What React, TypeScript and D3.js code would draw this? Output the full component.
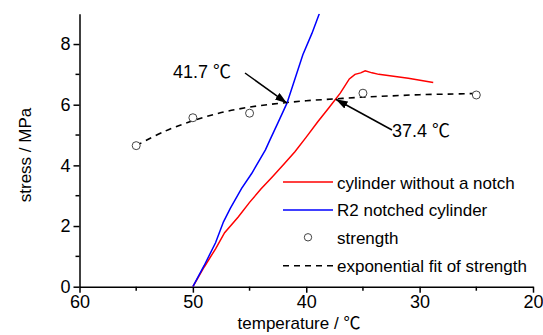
import * as d3 from 'd3';
import React, { useEffect, useRef } from 'react';

// strength measurements (temperature in C, stress in MPa)
const strengthT = [55, 50, 45, 35, 25];
const strengthV = [4.65, 5.57, 5.72, 6.38, 6.32];

// exponential fit of strength
const fitT = [55, 52.5, 50, 47.5, 45, 42.5, 40, 37.5, 35, 32.5, 30, 27.5, 25];
const fitV = [4.65, 5.12, 5.47, 5.74, 5.92, 6.04, 6.13, 6.19, 6.25, 6.29, 6.33, 6.35, 6.37];

// cylinder without a notch
const redT = [50, 49, 48, 47.2, 46, 45, 44, 43, 42, 41, 40, 39, 38, 37, 36.2, 35.7, 35.2, 34.8, 34.2, 33.6, 31, 28.8];
const redV = [0, 0.65, 1.25, 1.78, 2.3, 2.78, 3.22, 3.62, 4.03, 4.45, 4.93, 5.43, 5.9, 6.38, 6.85, 7.0, 7.05, 7.12, 7.05, 7.0, 6.87, 6.73];

// R2 notched cylinder
const blueT = [50, 49, 48, 47.3, 46.7, 45.7, 44.8, 43.6, 43.2, 42.5, 41.7, 41, 40.3, 39.5, 38.85];
const blueV = [0, 0.7, 1.45, 2.14, 2.58, 3.24, 3.74, 4.51, 4.84, 5.4, 6.05, 6.85, 7.65, 8.35, 9.0];

const xTicks = [60, 50, 40, 30, 20];
const xMinor = [55, 45, 35, 25];
const yTicks = [0, 2, 4, 6, 8];
const yMinor = [1, 3, 5, 7];

const legendLabels = ['cylinder without a notch', 'R2 notched cylinder', 'strength', 'exponential fit of strength'];

const annotations = [
  { label: '41.7 ', t: 41.7, v: 6.05, tx: 173, ty: 78, sx: 245, sy: 73 },
  { label: '37.4 ', t: 37.4, v: 6.18, tx: 392, ty: 137, sx: 392, sy: 130 },
];

const W = 543;
const H = 335;
const FONT = "'Liberation Sans', Arial, sans-serif";
const CJK = "'Noto Sans CJK SC', 'Liberation Sans', sans-serif";

export default function App() {
  const ref = useRef<SVGSVGElement>(null);

  useEffect(() => {
    const svg = d3.select(ref.current);
    svg.selectAll('*').remove();

    const x = d3.scaleLinear().domain([60, 20]).range([79.5, 533]);
    const y = d3.scaleLinear().domain([0, 9]).range([286.7, 13.7]);

    const defs = svg.append('defs');
    defs.append('clipPath').attr('id', 'plot-clip')
      .append('rect')
      .attr('x', x(60)).attr('y', y(9))
      .attr('width', x(20) - x(60)).attr('height', y(0) - y(9));
    defs.append('marker')
      .attr('id', 'arrow')
      .attr('markerUnits', 'userSpaceOnUse')
      .attr('viewBox', '0 0 12 8')
      .attr('refX', 12).attr('refY', 4)
      .attr('markerWidth', 12).attr('markerHeight', 8)
      .attr('orient', 'auto')
      .append('path').attr('d', 'M0,0 L12,4 L0,8 Z').attr('fill', '#000');

    // Axes
    const xAxis = svg.append('g')
      .attr('transform', 'translate(0,' + y(0) + ')')
      .call(d3.axisBottom(x).tickValues(xTicks).tickSize(6).tickSizeOuter(0).tickPadding(3).tickFormat(d3.format('d')));
    svg.append('g')
      .attr('transform', 'translate(0,' + y(0) + ')')
      .selectAll('line').data(xMinor).enter().append('line')
      .attr('x1', d => x(d)).attr('x2', d => x(d))
      .attr('y1', 0).attr('y2', 4)
      .attr('stroke', '#000').attr('stroke-width', 1.5);

    const yAxis = svg.append('g')
      .attr('transform', 'translate(' + x(60) + ',0)')
      .call(d3.axisLeft(y).tickValues(yTicks).tickSize(6).tickSizeOuter(0).tickPadding(3).tickFormat(d3.format('d')));
    svg.append('g')
      .attr('transform', 'translate(' + x(60) + ',0)')
      .selectAll('line').data(yMinor).enter().append('line')
      .attr('x1', 0).attr('x2', -4)
      .attr('y1', d => y(d)).attr('y2', d => y(d))
      .attr('stroke', '#000').attr('stroke-width', 1.5);

    [xAxis, yAxis].forEach(g => {
      g.select('.domain').attr('stroke-width', 1.5);
      g.selectAll('.tick line').attr('stroke-width', 1.5);
      g.selectAll('.tick text').attr('font-size', 18).attr('font-family', FONT).attr('fill', '#000');
    });

    const xTitle = svg.append('text')
      .attr('x', 299).attr('y', 329)
      .attr('text-anchor', 'middle')
      .attr('font-size', 17).attr('font-family', FONT)
      .text('temperature /  ');
    xTitle.append('tspan').attr('font-family', CJK).text('\u2103');
    svg.append('text')
      .attr('transform', 'translate(31,155) rotate(-90)')
      .attr('text-anchor', 'middle')
      .attr('font-size', 17).attr('font-family', FONT)
      .text('stress / MPa');

    const plot = svg.append('g').attr('clip-path', 'url(#plot-clip)');

    const line = d3.line<[number, number]>()
      .x(d => x(d[0]))
      .y(d => y(d[1]));

    // dashed fit
    plot.append('path')
      .attr('d', line.curve(d3.curveCatmullRom)(fitT.map((t, i) => [t, fitV[i]] as [number, number])))
      .attr('fill', 'none').attr('stroke', '#000')
      .attr('stroke-width', 1.6).attr('stroke-dasharray', '6,5');

    line.curve(d3.curveLinear);
    plot.append('path')
      .attr('d', line(redT.map((t, i) => [t, redV[i]] as [number, number])))
      .attr('fill', 'none').attr('stroke', '#ff0000').attr('stroke-width', 1.5);
    plot.append('path')
      .attr('d', line(blueT.map((t, i) => [t, blueV[i]] as [number, number])))
      .attr('fill', 'none').attr('stroke', '#0000ff').attr('stroke-width', 1.5);

    plot.selectAll('circle.strength')
      .data(strengthT.map((t, i) => [t, strengthV[i]]))
      .enter().append('circle')
      .attr('class', 'strength')
      .attr('cx', d => x(d[0])).attr('cy', d => y(d[1])).attr('r', 4)
      .attr('fill', '#fff').attr('stroke', '#444').attr('stroke-width', 1);

    // annotations
    annotations.forEach(a => {
      svg.append('line')
        .attr('x1', a.sx).attr('y1', a.sy)
        .attr('x2', x(a.t)).attr('y2', y(a.v))
        .attr('stroke', '#000').attr('stroke-width', 1.5)
        .attr('marker-end', 'url(#arrow)');
      const txt = svg.append('text')
        .attr('x', a.tx).attr('y', a.ty)
        .attr('font-size', 18).attr('font-family', FONT)
        .text(a.label);
      txt.append('tspan').attr('font-family', CJK).text('\u2103');
    });

    // legend
    const lg = svg.append('g').attr('transform', 'translate(283,182)');
    const rowH = 27.9;
    lg.append('line').attr('x1', 0).attr('x2', 50).attr('y1', 0).attr('y2', 0)
      .attr('stroke', '#ff0000').attr('stroke-width', 1.5);
    lg.append('line').attr('x1', 0).attr('x2', 50).attr('y1', rowH).attr('y2', rowH)
      .attr('stroke', '#0000ff').attr('stroke-width', 1.5);
    lg.append('circle').attr('cx', 25).attr('cy', rowH * 2 - 0.5).attr('r', 3.7)
      .attr('fill', '#fff').attr('stroke', '#444').attr('stroke-width', 1);
    lg.append('line').attr('x1', 0).attr('x2', 50).attr('y1', rowH * 3).attr('y2', rowH * 3)
      .attr('stroke', '#000').attr('stroke-width', 1.6).attr('stroke-dasharray', '6,5');
    lg.selectAll('text').data(legendLabels).enter().append('text')
      .attr('x', 54).attr('y', (d, i) => i * rowH + 6.5)
      .attr('font-size', 17).attr('font-family', FONT)
      .text(d => d);
  }, []);

  return (
    <div style={{ position: 'fixed', left: 0, top: 0 }}>
      <svg ref={ref} width={W} height={H} style={{ display: 'block', background: '#fff' }} />
    </div>
  );
}
